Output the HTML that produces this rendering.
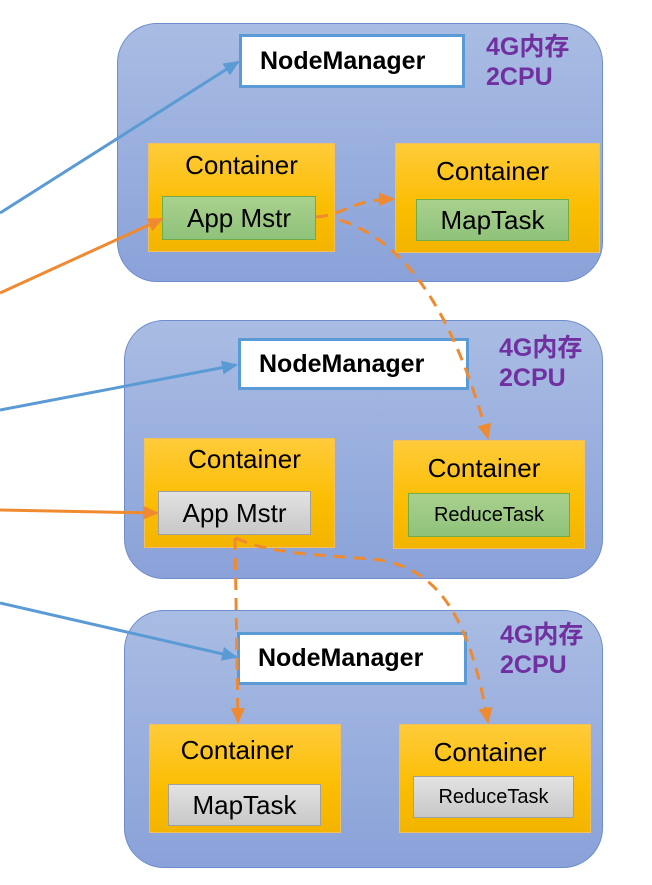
<!DOCTYPE html>
<html><head><meta charset="utf-8"><style>
body{margin:0;width:652px;height:885px;background:#fff;position:relative;overflow:hidden;font-family:"Liberation Sans","Noto Sans CJK SC",sans-serif}
.n{position:absolute;border:1.5px solid #6d8dcc;border-radius:40px;background:linear-gradient(#a9bce3,#8aa2d9)}
.nm{position:absolute;background:#fff;border:3px solid #5b9bd5;box-sizing:border-box;font-weight:bold;font-size:25px;display:flex;align-items:center;padding-left:18px}
.p{position:absolute;color:#7030a0;font-weight:bold;font-size:25px;line-height:30px}
.c{position:absolute;background:linear-gradient(#ffcb3a,#fbbd00 60%,#f3b400);border:1px solid #f0c060;box-sizing:border-box;font-size:26px;text-align:center}
.c span{position:absolute;top:6px;left:0;right:0}
.t{position:absolute;box-sizing:border-box;font-size:26px;display:flex;align-items:center;justify-content:center}
.g{background:linear-gradient(#a9d18e,#8fc27a);border:1px solid #70ad47}
.y{background:linear-gradient(#e2e2e2,#c8c8c8);border:1px solid #a0a0a0}
svg{position:absolute;left:0;top:0}
</style></head><body>
<div class="n" style="left:117px;top:23px;width:484px;height:257px"></div>
<div class="n" style="left:124px;top:320px;width:477px;height:257px"></div>
<div class="n" style="left:124px;top:610px;width:477px;height:256px"></div>

<div class="nm" style="left:239px;top:34px;width:226px;height:54px">NodeManager</div>
<div class="nm" style="left:238px;top:338px;width:231px;height:52px">NodeManager</div>
<div class="nm" style="left:237px;top:632px;width:230px;height:53px">NodeManager</div>

<div class="p" style="left:486px;top:32px">4G内存<br>2CPU</div>
<div class="p" style="left:499px;top:333px">4G内存<br>2CPU</div>
<div class="p" style="left:500px;top:620px">4G内存<br>2CPU</div>

<div class="c" style="left:148px;top:143px;width:187px;height:109px"><span>Container</span></div>
<div class="t g" style="left:162px;top:196px;width:154px;height:44px">App Mstr</div>
<div class="c" style="left:395px;top:143px;width:205px;height:110px"><span style="top:12px;left:-10px">Container</span></div>
<div class="t g" style="left:416px;top:199px;width:153px;height:42px">MapTask</div>

<div class="c" style="left:144px;top:438px;width:191px;height:110px"><span style="top:5px;left:10px">Container</span></div>
<div class="t y" style="left:158px;top:491px;width:153px;height:44px">App Mstr</div>
<div class="c" style="left:393px;top:440px;width:192px;height:109px"><span style="top:12px;left:-10px">Container</span></div>
<div class="t g" style="left:408px;top:493px;width:162px;height:44px;font-size:20px">ReduceTask</div>

<div class="c" style="left:149px;top:724px;width:192px;height:109px"><span style="top:10px;left:-16px">Container</span></div>
<div class="t y" style="left:168px;top:784px;width:153px;height:42px">MapTask</div>
<div class="c" style="left:399px;top:724px;width:192px;height:109px"><span style="top:12px;left:-10px">Container</span></div>
<div class="t y" style="left:413px;top:776px;width:161px;height:42px;font-size:20px">ReduceTask</div>

<svg width="652" height="885">
<defs>
<marker id="b" markerWidth="16" markerHeight="14" refX="14" refY="7" orient="auto" markerUnits="userSpaceOnUse" viewBox="0 0 16 14"><path d="M0,0L16,7L0,14z" fill="#5b9bd5"/></marker>
<marker id="o" markerWidth="16" markerHeight="14" refX="14" refY="7" orient="auto" markerUnits="userSpaceOnUse" viewBox="0 0 16 14"><path d="M0,0L16,7L0,14z" fill="#f08a30"/></marker>
</defs>
<g stroke-width="3" fill="none">
<path d="M0,213L238,62" stroke="#5b9bd5" marker-end="url(#b)"/>
<path d="M0,410L236,365" stroke="#5b9bd5" marker-end="url(#b)"/>
<path d="M0,603L236,657" stroke="#5b9bd5" marker-end="url(#b)"/>
<path d="M0,293L162,219" stroke="#f08a30" marker-end="url(#o)"/>
<path d="M0,510L157,513" stroke="#f08a30" marker-end="url(#o)"/>
<g stroke="#f08a30" stroke-dasharray="12,8">
<path d="M316,217C345,215 350,200 393,199" marker-end="url(#o)"/>
<path d="M340,220C400,240 450,300 488,438" marker-end="url(#o)"/>
<path d="M235,538L238,722" marker-end="url(#o)"/>
<path d="M236,538C270,555 330,555 380,560C440,570 470,620 488,722" marker-end="url(#o)"/>
</g></g>
</svg>
</body></html>
